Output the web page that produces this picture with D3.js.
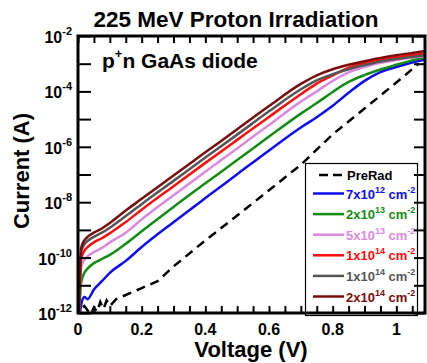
<!DOCTYPE html>
<html><head><meta charset="utf-8">
<script src="https://cdn.jsdelivr.net/npm/d3@7"></script>
<style>
body{margin:0;background:#fff}
svg{display:block}
text{font-family:"Liberation Sans",Arial,Helvetica,sans-serif;font-weight:bold}
</style>
</head><body>
<svg id="c" width="427" height="363"></svg>
<script>
// ---- data ----
const voltage = [0.002, 0.01, 0.02, 0.03, 0.05, 0.075, 0.1, 0.15, 0.2, 0.3, 0.4, 0.5, 0.6, 0.7, 0.75, 0.8, 0.85, 0.9, 0.95, 1.0, 1.05, 1.09];
const flu7e12 = [2.5e-13, 2.0e-12, 3.8e-12, 3.16e-12, 7.08e-12, 1.41e-11, 2.82e-11, 7.6e-11, 2.4e-10, 1.9e-9, 1.41e-8, 1.02e-7, 7.41e-7, 5.0e-6, 1.17e-5, 3.02e-5, 8.9e-5, 2.4e-4, 5.0e-4, 7.6e-4, 1.10e-3, 1.41e-3];
const flu2e13 = [3.16e-13, 1.26e-11, 2.82e-11, 3.98e-11, 6.31e-11, 8.91e-11, 1.26e-10, 3.16e-10, 8.91e-10, 6.76e-9, 4.79e-8, 3.31e-7, 2.34e-6, 1.58e-5, 3.80e-5, 9.55e-5, 2.19e-4, 3.89e-4, 6.17e-4, 9.12e-4, 1.32e-3, 1.74e-3];
const flu5e13 = [3.16e-13, 4.47e-11, 8.32e-11, 1.12e-10, 1.58e-10, 2.24e-10, 3.55e-10, 7.94e-10, 2.40e-9, 1.78e-8, 1.26e-7, 8.71e-7, 6.17e-6, 4.27e-5, 1.0e-4, 2.40e-4, 4.90e-4, 7.59e-4, 1.07e-3, 1.35e-3, 1.66e-3, 1.91e-3];
const flu1e14a = [3.16e-13, 8.91e-11, 1.78e-10, 2.40e-10, 3.55e-10, 5.01e-10, 7.59e-10, 1.91e-9, 5.37e-9, 3.80e-8, 2.63e-7, 1.78e-6, 1.20e-5, 7.94e-5, 1.91e-4, 3.80e-4, 7.24e-4, 1.05e-3, 1.41e-3, 1.74e-3, 2.04e-3, 2.34e-3];
const flu1e14b = [3.16e-13, 1.58e-10, 3.02e-10, 3.98e-10, 5.62e-10, 7.94e-10, 1.20e-9, 3.16e-9, 8.51e-9, 5.89e-8, 4.07e-7, 2.75e-6, 1.91e-5, 1.20e-4, 2.51e-4, 4.17e-4, 6.31e-4, 8.91e-4, 1.20e-3, 1.48e-3, 1.74e-3, 2.0e-3];
const flu2e14 = [3.16e-13, 2.24e-10, 4.17e-10, 5.62e-10, 7.94e-10, 1.12e-9, 1.78e-9, 5.01e-9, 1.32e-8, 9.12e-8, 6.31e-7, 4.27e-6, 2.95e-5, 1.86e-4, 3.80e-4, 6.31e-4, 9.12e-4, 1.23e-3, 1.62e-3, 2.04e-3, 2.45e-3, 2.88e-3];
const preRadVoltage = [0.004, 0.01, 0.02, 0.03, 0.04, 0.05, 0.06, 0.07, 0.08, 0.09, 0.1, 0.12, 0.15, 0.2, 0.25, 0.3, 0.4, 0.5, 0.6, 0.7, 0.8, 0.9, 1.0, 1.07];
const preRad = [5.0e-13, 1.41e-12, 1.78e-12, 1.26e-12, 8.91e-13, 1.58e-12, 1.12e-12, 2.51e-12, 1.41e-12, 2.82e-12, 1.78e-12, 3.16e-12, 4.47e-12, 7.94e-12, 1.41e-11, 4.79e-11, 4.17e-10, 3.31e-9, 2.69e-8, 2.24e-7, 2.82e-6, 2.40e-5, 2.09e-4, 1.0e-3];

const legendMantissa = ["7", "2", "5", "1", "1", "2"];
const legendExponent = ["12", "13", "13", "14", "14", "14"];
const seriesColors = ["#0c0cf0", "#138c13", "#dd88dd", "#ff0c0c", "#555555", "#7a0c0c"];
const seriesValues = [flu7e12, flu2e13, flu5e13, flu1e14a, flu1e14b, flu2e14];
const xTickValues = [0, 0.2, 0.4, 0.6, 0.8, 1];
const xTickLabels = ["0", "0.2", "0.4", "0.6", "0.8", "1"];
const yLabelExponents = [-2, -4, -6, -8, -10, -12];

// ---- layout ----
const svg = d3.select("#c");
const L = 78, R = 425, T = 36, B = 313;
const x = d3.scaleLinear().domain([0, 1.09]).range([L, R]);
const y = d3.scaleLog().domain([1e-12, 1e-2]).range([B, T]);

svg.append("defs").append("clipPath").attr("id", "clip")
  .append("rect").attr("x", L).attr("y", T).attr("width", R - L).attr("height", B - T);

// title
svg.append("text").attr("x", 236).attr("y", 27).attr("text-anchor", "middle")
  .attr("font-size", 22.5).text("225 MeV Proton Irradiation");

// curves
const g = svg.append("g").attr("clip-path", "url(#clip)");
const line = d3.line().x(d => x(d[0])).y(d => y(d[1])).curve(d3.curveMonotoneX);
const lineLin = d3.line().x(d => x(d[0])).y(d => y(d[1]));

g.append("path").datum(d3.zip(preRadVoltage, preRad))
  .attr("d", lineLin).attr("fill", "none").attr("stroke", "#000")
  .attr("stroke-width", 2.5).attr("stroke-dasharray", "9,6");

seriesValues.forEach((vals, i) => {
  g.append("path").datum(d3.zip(voltage, vals))
    .attr("d", line).attr("fill", "none").attr("stroke", seriesColors[i])
    .attr("stroke-width", 2.5).attr("stroke-linejoin", "round");
});

// inside label
const lab = svg.append("text").attr("x", 102).attr("y", 68).attr("font-size", 21);
lab.append("tspan").text("p");
lab.append("tspan").attr("font-size", 13).attr("dy", -10).text("+");
lab.append("tspan").attr("dy", 10).text("n GaAs diode");

// legend
const lg = svg.append("g");
lg.append("rect").attr("x", 305.5).attr("y", 163.5).attr("width", 112).attr("height", 152)
  .attr("fill", "#fff").attr("stroke", "#000").attr("stroke-width", 1.2);
const row0 = 175;
lg.append("line").attr("x1", 319).attr("x2", 344).attr("y1", row0).attr("y2", row0)
  .attr("stroke", "#000").attr("stroke-width", 2.5).attr("stroke-dasharray", "9,5");
lg.append("text").attr("x", 347).attr("y", row0 + 4.5).attr("font-size", 13).text("PreRad");
seriesColors.forEach((c, i) => {
  const yy = 193.5 + i * 20.6;
  lg.append("line").attr("x1", 313).attr("x2", 344).attr("y1", yy).attr("y2", yy)
    .attr("stroke", c).attr("stroke-width", 2.5);
  const t = lg.append("text").attr("x", 346).attr("y", yy + 5).attr("font-size", 13).attr("fill", c);
  t.append("tspan").text(legendMantissa[i] + "x10");
  t.append("tspan").attr("font-size", 9).attr("dy", -6).text(legendExponent[i]);
  t.append("tspan").attr("font-size", 13).attr("dy", 6).text(" cm");
  t.append("tspan").attr("font-size", 9).attr("dy", -6).text("-2");
});

// axes (ticks inward)
const ax = svg.append("g");
function styleAxis(sel) {
  sel.select(".domain").remove();
  sel.selectAll(".tick line").attr("stroke", "#000").attr("stroke-width", 2);
  sel.selectAll(".tick text").remove();
}
const xMinor = d3.range(0, 1.0901, 0.05);
ax.append("g").attr("transform", `translate(0,${B})`)
  .call(d3.axisBottom(x).tickValues(xMinor).tickSize(-7)).call(styleAxis);
ax.append("g").attr("transform", `translate(0,${T})`)
  .call(d3.axisTop(x).tickValues(xMinor).tickSize(-7)).call(styleAxis);

const majors = d3.range(-12, -1).map(e => Math.pow(10, e));
const allTicks = y.ticks();
const minors = allTicks.filter(v => Math.abs(Math.log10(v) - Math.round(Math.log10(v))) > 1e-6);
ax.append("g").attr("transform", `translate(${L},0)`)
  .call(d3.axisLeft(y).tickValues(majors).tickSize(-13)).call(styleAxis);
ax.append("g").attr("transform", `translate(${L},0)`)
  .call(d3.axisLeft(y).tickValues(minors).tickSize(-7)).call(styleAxis);
ax.append("g").attr("transform", `translate(${R},0)`)
  .call(d3.axisRight(y).tickValues(majors).tickSize(-11)).call(styleAxis);
ax.append("g").attr("transform", `translate(${R},0)`)
  .call(d3.axisRight(y).tickValues(minors).tickSize(-6)).call(styleAxis);

// frame
svg.append("rect").attr("x", L).attr("y", T).attr("width", R - L).attr("height", B - T)
  .attr("fill", "none").attr("stroke", "#000").attr("stroke-width", 3);

// x tick labels
xTickValues.forEach((v, i) => {
  svg.append("text").attr("x", x(v)).attr("y", 335).attr("text-anchor", "middle")
    .attr("font-size", 16).text(xTickLabels[i]);
});
// y tick labels
yLabelExponents.forEach(e => {
  const t = svg.append("text").attr("x", 72).attr("y", y(Math.pow(10, e)) + 7)
    .attr("text-anchor", "end").attr("font-size", 16);
  t.append("tspan").text("10");
  t.append("tspan").attr("font-size", 11).attr("dy", -8).text(String(e));
});

// axis titles
svg.append("text").attr("x", 251).attr("y", 357).attr("text-anchor", "middle")
  .attr("font-size", 22).text("Voltage (V)");
svg.append("text").attr("transform", "translate(29,171) rotate(-90)")
  .attr("text-anchor", "middle").attr("font-size", 22).text("Current (A)");
</script>
</body></html>
